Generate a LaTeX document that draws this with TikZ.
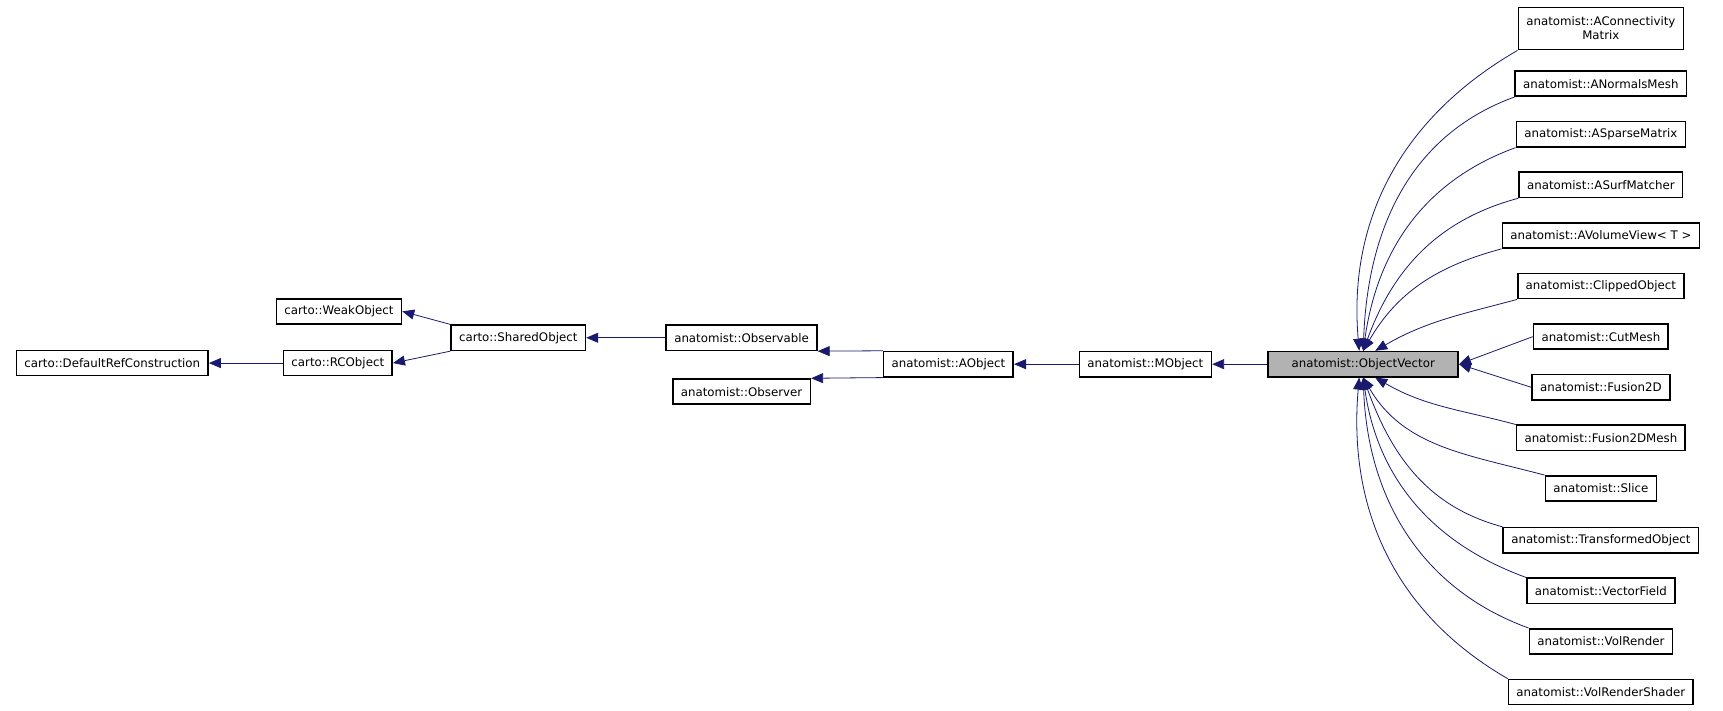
\documentclass[tikz,border=0pt]{standalone}
\usepackage{fontspec}
\setmainfont{DejaVu Sans}
\usetikzlibrary{arrows.meta}
\definecolor{edgeblue}{RGB}{25,25,112}
\begin{document}
\begin{tikzpicture}[x=0.55pt, y=-0.55pt,
    cls/.style={draw, thick, fill=white, font=\fontsize{5.9}{7}\selectfont, inner xsep=4pt, minimum height=12.6pt, align=center},
    edge/.style={edgeblue, {Triangle[length=6pt,width=5pt]}-}]
\useasboundingbox (0,0) rectangle (1566,646);
\node[cls] (drc) at (102,330) {carto::DefaultRefConstruction};
\node[cls] (rco) at (307,330) {carto::RCObject};
\node[cls] (wko) at (308,283) {carto::WeakObject};
\node[cls] (sho) at (471,307) {carto::SharedObject};
\node[cls] (obl) at (674,307) {anatomist::Observable};
\node[cls] (obr) at (674,356) {anatomist::Observer};
\node[cls] (aob) at (862,331) {anatomist::AObject};
\node[cls] (mob) at (1041,331) {anatomist::MObject};
\node[cls, fill=black!30, minimum width=95pt] (ov) at (1239,331) {anatomist::ObjectVector};
% derived classes
\node[cls, minimum height=21pt] (acm) at (1455,26) {anatomist::AConnectivity\\Matrix};
\foreach \n/\y/\t in {anm/76/ANormalsMesh, asp/122/ASparseMatrix, asf/168/ASurfMatcher,
    avv/214/{AVolumeView< T >}, clo/260/ClippedObject, cum/306/CutMesh, f2d/352/Fusion2D,
    f2m/398/Fusion2DMesh, sli/444/Slice, tro/491/TransformedObject, vfi/537/VectorField,
    vre/583/VolRender, vrs/629/VolRenderShader}
  \node[cls] (\n) at (1455,\y) {anatomist::\t};
\draw[edge] (drc) -- (rco);
\draw[edge] (wko.east) -- (sho.north west);
\draw[edge] (rco.east) -- (sho.south west);
\draw[edge] (sho) -- (obl);
\draw[edge] (obl.south east) -- (aob.north west);
\draw[edge] (obr.north east) -- (aob.south west);
\draw[edge] (aob) -- (mob);
\draw[edge] (mob) -- (ov);
\draw[edge] ([xshift=-2pt]ov.north) to[out=95, in=210] (acm.south west);
\foreach \n/\a/\b in {anm/88/200, asp/82/200, asf/70/195, avv/60/195}
  \draw[edge] (ov.north) to[out=\a, in=\b] (\n.south west);
\draw[edge] ([xshift=6pt]ov.north) to[out=30, in=195] (clo.south west);
\draw[edge] (ov.east) -- (cum.west);
\draw[edge] (ov.east) -- (f2d.west);
\draw[edge] ([xshift=6pt]ov.south) to[out=-30, in=165] (f2m.north west);
\foreach \n/\a/\b in {sli/-60/165, tro/-70/165, vfi/-82/160, vre/-88/160}
  \draw[edge] (ov.south) to[out=\a, in=\b] (\n.north west);
\draw[edge] ([xshift=-2pt]ov.south) to[out=-95, in=150] (vrs.north west);
\end{tikzpicture}
\end{document}
